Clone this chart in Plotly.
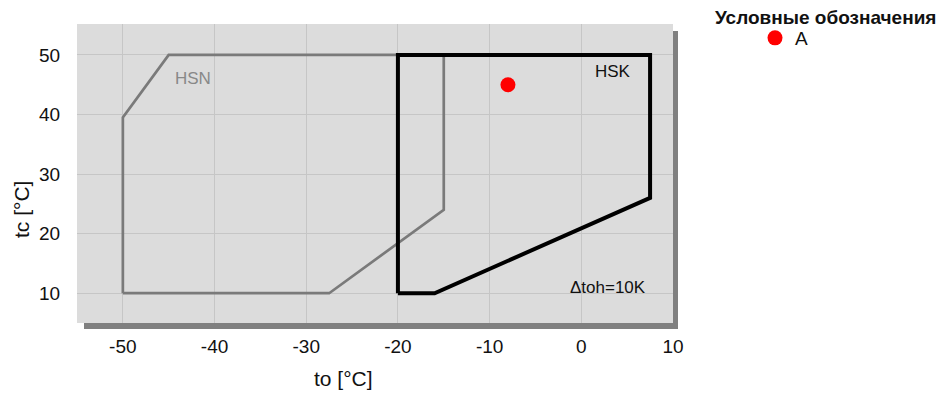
import plotly.graph_objects as go

# HSN envelope (gray)
hsn_to = [-50, -50, -45, -15, -15, -27.5, -50]
hsn_tc = [10, 39.5, 50, 50, 24, 10, 10]
# HSK envelope (black)
hsk_to = [-20, -20, 7.5, 7.5, -16, -20]
hsk_tc = [10, 50, 50, 26, 10, 10]
# Operating point
pt_name = "A"
pt_to = [-8]
pt_tc = [45]

x_ticks = [-50, -40, -30, -20, -10, 0, 10]
x_ticklabels = ["-50", "-40", "-30", "-20", "-10", "0", "10"]
y_ticks = [10, 20, 30, 40, 50]
y_ticklabels = ["10", "20", "30", "40", "50"]

FONT = "Arial, Liberation Sans, sans-serif"

# page has an 8px body margin: screen px -> paper
def px(sx):
    return (sx - 77) / 596

def py(sy):
    return (323 - sy) / 299

fig = go.Figure()
fig.add_trace(go.Scatter(x=hsn_to, y=hsn_tc, mode="lines",
                         line=dict(color="#7a7a7a", width=2.7),
                         showlegend=False, hoverinfo="skip"))
fig.add_trace(go.Scatter(x=hsk_to, y=hsk_tc, mode="lines",
                         line=dict(color="#000000", width=4),
                         showlegend=False, hoverinfo="skip"))
fig.add_trace(go.Scatter(x=pt_to, y=pt_tc, mode="markers", name=pt_name,
                         marker=dict(color="#ff0000", size=15)))

# shadow and plot background
fig.add_shape(type="rect", xref="paper", yref="paper", x0=px(84), x1=px(678),
              y0=py(329), y1=py(31), fillcolor="#808080", line_width=0, layer="below")
fig.add_shape(type="rect", xref="paper", yref="paper", x0=0, x1=1,
              y0=0, y1=1, fillcolor="#dcdcdc", line_width=0, layer="below")

fig.add_annotation(x=-42.3, y=46.1, text="HSN", showarrow=False,
                   xanchor="center", yanchor="middle",
                   font=dict(family=FONT, size=17, color="#888888"))
fig.add_annotation(x=3.5, y=47.2, text="HSK", showarrow=False,
                   xanchor="center", yanchor="middle",
                   font=dict(family=FONT, size=17, color="#111111"))
fig.add_annotation(x=2.9, y=11, text="Δtoh=10K", showarrow=False,
                   xanchor="center", yanchor="middle",
                   font=dict(family=FONT, size=17, color="#111111"))

# axis titles
fig.add_annotation(xref="paper", yref="paper", x=px(343), y=py(378),
                   text="to [°C]", showarrow=False, xanchor="center", yanchor="middle",
                   font=dict(family=FONT, size=21, color="#111111"))
fig.add_annotation(xref="paper", yref="paper", x=px(21), y=py(210),
                   text="tc [°C]", showarrow=False, textangle=-90,
                   xanchor="center", yanchor="middle",
                   font=dict(family=FONT, size=21, color="#111111"))
# legend title
fig.add_annotation(xref="paper", yref="paper", x=px(825), y=py(17),
                   text="<b>Условные обозначения</b>", showarrow=False,
                   xanchor="center", yanchor="middle",
                   font=dict(family=FONT, size=19, color="#111111"))

fig.update_layout(
    width=939, height=387,
    margin=dict(l=69, r=274, t=16, b=72, autoexpand=False),
    paper_bgcolor="white",
    plot_bgcolor="rgba(0,0,0,0)",
    font=dict(family=FONT, size=17, color="#111111"),
    showlegend=True,
    legend=dict(x=px(755), y=py(19), xanchor="left", yanchor="top",
                font=dict(family=FONT, size=19, color="#111111"),
                bgcolor="rgba(0,0,0,0)", itemwidth=30),
    xaxis=dict(range=[-55, 10], tickvals=x_ticks, ticktext=x_ticklabels,
               showgrid=True, gridcolor="#c6c6c6",
               gridwidth=1, zeroline=False, showline=False, ticks="outside",
               ticklen=6, tickcolor="rgba(0,0,0,0)", tickfont=dict(size=19)),
    yaxis=dict(range=[5, 55.2], tickvals=y_ticks, ticktext=y_ticklabels,
               showgrid=True, gridcolor="#c6c6c6",
               gridwidth=1, zeroline=False, showline=False, ticks="outside",
               ticklen=12, tickcolor="rgba(0,0,0,0)", tickfont=dict(size=19)),
)

fig.write_html("out.html")
